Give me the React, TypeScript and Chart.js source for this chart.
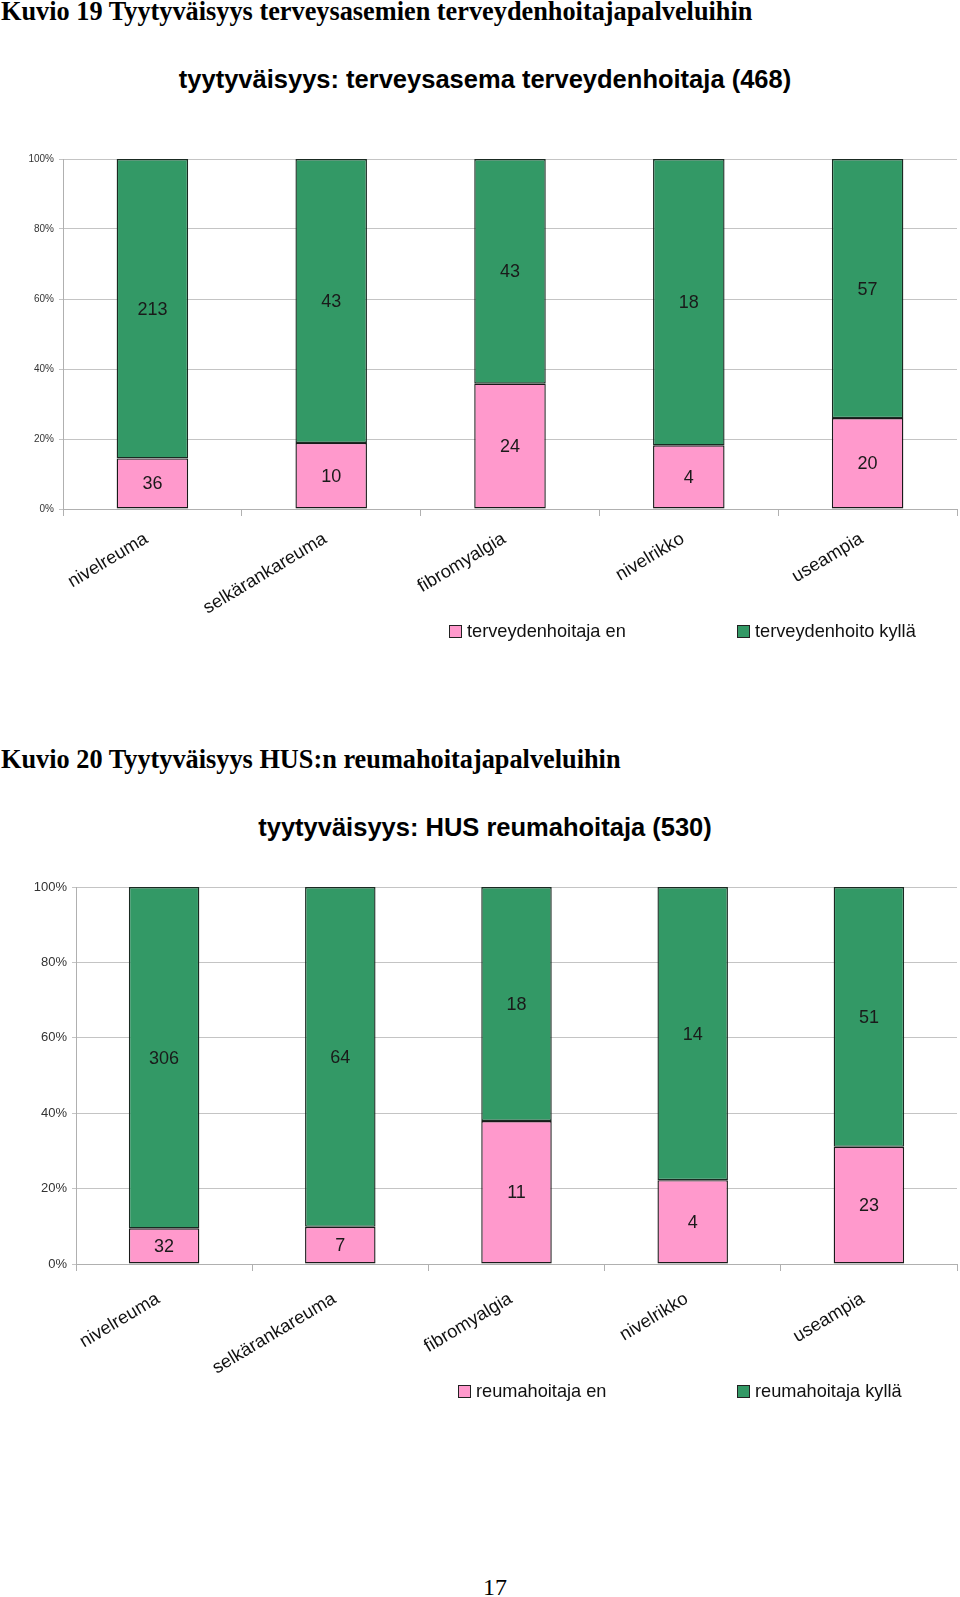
import React, { useEffect, useRef } from "react";
import { Chart, registerables } from "chart.js";

Chart.register(...registerables);

// ---- data ----
const categories = ["nivelreuma", "selkärankareuma", "fibromyalgia", "nivelrikko", "useampia"];
const terveysEn = [36, 10, 24, 4, 20];
const terveysKylla = [213, 43, 43, 18, 57];
const reumaEn = [32, 7, 11, 4, 23];
const reumaKylla = [306, 64, 18, 14, 51];
const yTickStep = 20;
const yMax = 100;

const PINK = "#FF99CC";
const GREEN = "#339966";
const SANS = '"Liberation Sans", Arial, Helvetica, sans-serif';
const SERIF = '"Liberation Serif", "Times New Roman", Times, serif';

const countLabels = {
  id: "countLabels",
  afterDatasetsDraw(chart: any) {
    const ctx = chart.ctx;
    ctx.save();
    ctx.font = `18px ${SANS}`;
    ctx.fillStyle = "#1a1a1a";
    ctx.textAlign = "center";
    ctx.textBaseline = "middle";
    chart.data.datasets.forEach((ds: any, i: number) => {
      const meta = chart.getDatasetMeta(i);
      meta.data.forEach((bar: any, j: number) => {
        const p = bar.getProps(["x", "y", "base"], true);
        ctx.fillText(String(ds.counts[j]), p.x, (p.y + p.base) / 2 + 1);
      });
    });
    ctx.restore();
  },
};

type StackProps = {
  en: number[];
  kylla: number[];
  enLabel: string;
  kyllaLabel: string;
  top: number;
  height: number;
  yAxisWidth: number;
  yFont: number;
  xPad: number;
};

const X_AXIS_H = 130;

function StackChart(props: StackProps) {
  const ref = useRef<HTMLCanvasElement | null>(null);
  useEffect(() => {
    if (!ref.current) return;
    const totals = props.en.map((v, i) => v + props.kylla[i]);
    const chart = new Chart(ref.current, {
      type: "bar",
      data: {
        labels: categories,
        datasets: [
          {
            label: props.enLabel,
            data: props.en.map((v, i) => (v / totals[i]) * 100),
            counts: props.en,
            backgroundColor: PINK,
            borderColor: "#1a1a1a",
            borderWidth: 1.4,
            borderSkipped: false,
          } as any,
          {
            label: props.kyllaLabel,
            data: props.kylla.map((v, i) => (v / totals[i]) * 100),
            counts: props.kylla,
            backgroundColor: GREEN,
            borderColor: "#1a2a22",
            borderWidth: 1.4,
            borderSkipped: false,
          } as any,
        ],
      },
      options: {
        animation: false,
        responsive: false,
        devicePixelRatio: 1,
        layout: { padding: { top: 20, right: 3, left: 0, bottom: 0 } },
        datasets: { bar: { barPercentage: 0.4, categoryPercentage: 1.0 } },
        plugins: {
          legend: { display: false },
          title: { display: false },
          tooltip: { enabled: false },
        },
        scales: {
          x: {
            stacked: true,
            grid: {
              display: true,
              drawOnChartArea: false,
              offset: true,
              tickLength: 7,
              color: "#b0b0b0",
            },
            border: { color: "#b0b0b0" },
            ticks: {
              autoSkip: false,
              minRotation: 31,
              maxRotation: 31,
              padding: props.xPad,
              labelOffset: -6,
              color: "#111",
              font: { size: 18.3, family: SANS },
            },
            afterFit: (s: any) => {
              s.height = X_AXIS_H;
            },
          },
          y: {
            stacked: true,
            min: 0,
            max: yMax,
            ticks: {
              stepSize: yTickStep,
              padding: 5,
              color: "#333",
              font: { size: props.yFont, family: SANS },
              callback: (v: any) => v + "%",
            },
            grid: { color: "#c4c4c4", tickLength: 4 },
            border: { color: "#b0b0b0" },
            afterFit: (s: any) => {
              s.width = props.yAxisWidth;
            },
          },
        },
      },
      plugins: [countLabels],
    } as any);
    return () => chart.destroy();
  }, []);
  return (
    <canvas
      ref={ref}
      width={960}
      height={props.height}
      style={{ position: "absolute", left: 0, top: props.top, width: 960, height: props.height }}
    />
  );
}

function LegendItem({ color, text, left, cy }: { color: string; text: string; left: number; cy: number }) {
  return (
    <div
      style={{
        position: "absolute",
        left,
        top: cy - 11,
        height: 22,
        display: "flex",
        alignItems: "center",
        whiteSpace: "nowrap",
        fontFamily: SANS,
        fontSize: 18.2,
        color: "#111",
      }}
    >
      <span
        style={{
          display: "inline-block",
          width: 11,
          height: 11,
          background: color,
          border: "1px solid #222",
          marginRight: 5,
        }}
      />
      <span>{text}</span>
    </div>
  );
}

const headingStyle: React.CSSProperties = {
  position: "absolute",
  left: 1,
  fontFamily: SERIF,
  fontWeight: "bold",
  fontSize: 26.3,
  lineHeight: "26px",
  whiteSpace: "nowrap",
  color: "#000",
};

const titleStyle: React.CSSProperties = {
  position: "absolute",
  left: 485,
  transform: "translateX(-50%)",
  fontFamily: SANS,
  fontWeight: "bold",
  fontSize: 25.5,
  lineHeight: "25.5px",
  whiteSpace: "nowrap",
  color: "#000",
};

export default function App() {
  return (
    <div style={{ position: "relative", width: 960, height: 1597, background: "#fff", overflow: "hidden" }}>
      <style>{"body{margin:0}"}</style>
      <div style={{ ...headingStyle, top: -1 }}>Kuvio 19 Tyytyväisyys terveysasemien terveydenhoitajapalveluihin</div>
      <div style={{ ...titleStyle, top: 67 }}>tyytyväisyys: terveysasema terveydenhoitaja (468)</div>
      <StackChart
        en={terveysEn}
        kylla={terveysKylla}
        enLabel="terveydenhoitaja en"
        kyllaLabel="terveydenhoito kyllä"
        top={139}
        height={370 + X_AXIS_H}
        yAxisWidth={63}
        yFont={10}
        xPad={12}
      />
      <LegendItem color={PINK} text="terveydenhoitaja en" left={449} cy={631} />
      <LegendItem color={GREEN} text="terveydenhoito kyllä" left={737} cy={631} />

      <div style={{ ...headingStyle, top: 747 }}>Kuvio 20 Tyytyväisyys HUS:n reumahoitajapalveluihin</div>
      <div style={{ ...titleStyle, top: 815 }}>tyytyväisyys: HUS reumahoitaja (530)</div>
      <StackChart
        en={reumaEn}
        kylla={reumaKylla}
        enLabel="reumahoitaja en"
        kyllaLabel="reumahoitaja kyllä"
        top={867}
        height={397 + X_AXIS_H}
        yAxisWidth={76}
        yFont={13}
        xPad={17}
      />
      <LegendItem color={PINK} text="reumahoitaja en" left={458} cy={1391} />
      <LegendItem color={GREEN} text="reumahoitaja kyllä" left={737} cy={1391} />

      <div
        style={{
          position: "absolute",
          left: 495,
          transform: "translateX(-50%)",
          top: 1575,
          fontFamily: SERIF,
          fontSize: 24,
          lineHeight: "24px",
          color: "#000",
        }}
      >
        17
      </div>
    </div>
  );
}
